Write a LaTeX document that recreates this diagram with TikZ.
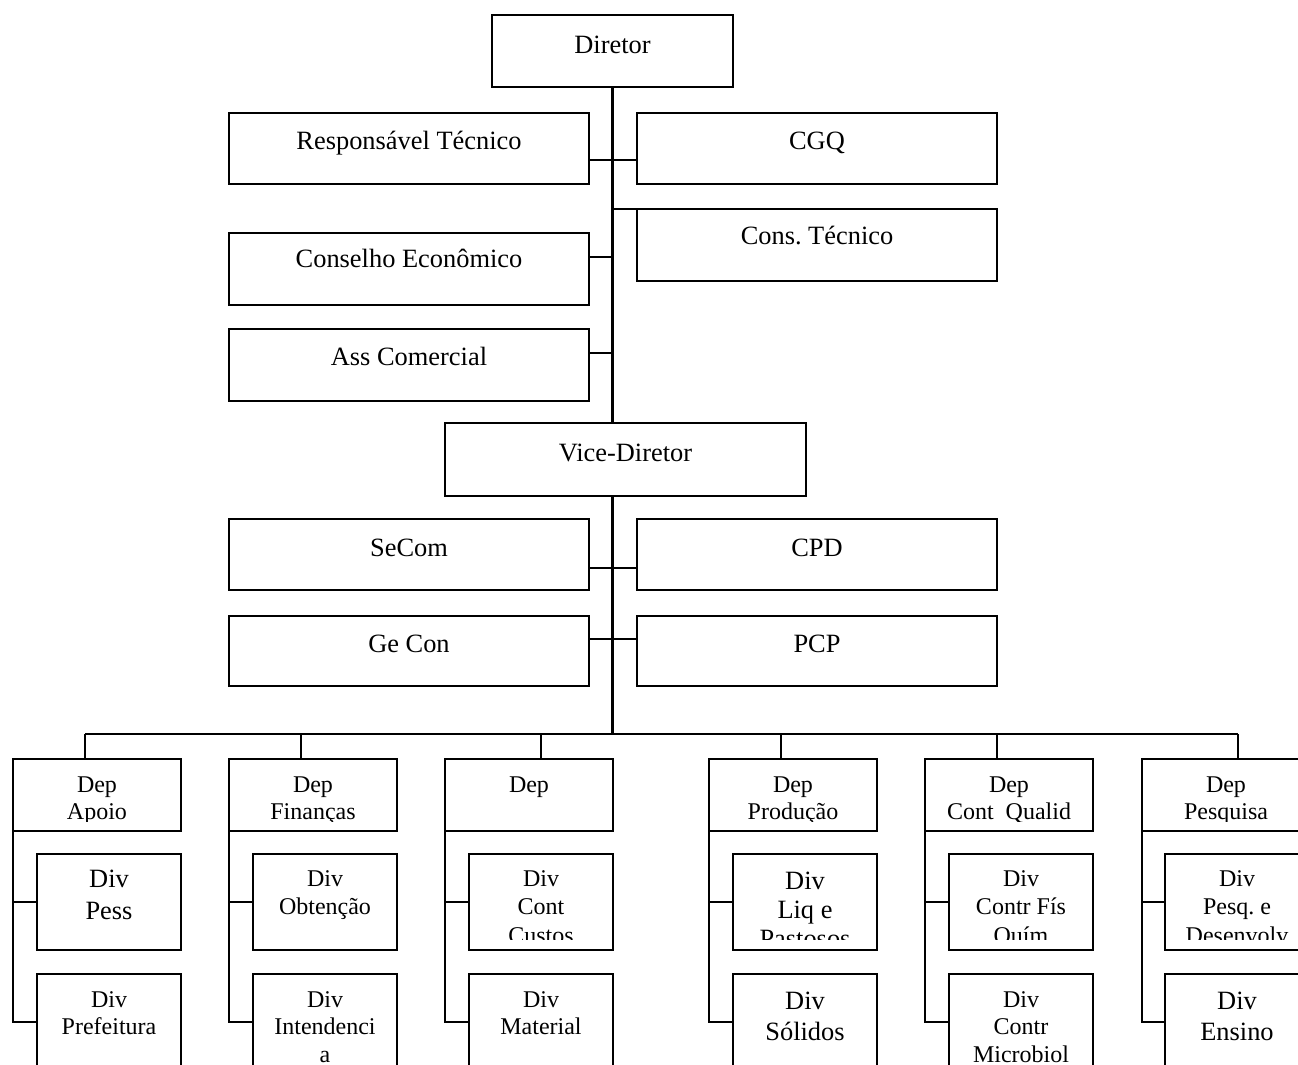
\documentclass[tikz,border=0pt]{standalone}
\usepackage{fontspec}
\setmainfont{Liberation Serif}
\usetikzlibrary{calc}
\frenchspacing

\tikzset{
  orgbox/.style={draw, line width=1.15pt, rectangle, inner sep=0pt, outer sep=0pt},
  labeltext/.style={anchor=base, inner sep=0pt, outer sep=0pt},
  link/.style={draw, line width=1.05pt},
}

% type sizes and line pitches
\newcommand\fsTop{\fontsize{13.2pt}{15.5pt}\selectfont}
\newcommand\fsDep{\fontsize{12pt}{13.5pt}\selectfont}
\newcommand\fsDivA{\fontsize{12pt}{14.25pt}\selectfont}
\newcommand\fsDivB{\fontsize{12pt}{13.75pt}\selectfont}
\newcommand\fsPess{\fontsize{13.2pt}{16pt}\selectfont}
\newcommand\fsLiq{\fontsize{13.2pt}{14.5pt}\selectfont}
\newcommand\fsBigB{\fontsize{13.2pt}{15.5pt}\selectfont}

% box: name, left, top, right, bottom
\newcommand\orgunit[5]{%
  \node[orgbox, anchor=north west,
        minimum width={(#4-#2)*0.5pt}, minimum height={(#5-#3)*0.5pt}]
        (#1) at (#2,#3) {};}

% label: name, box, first baseline, clip bottom, font, lines
\newcommand\orglabel[6]{%
  \begin{scope}
    \clip (#2.north west) rectangle (#2.east |- 0,#4);
    \node[labeltext] (#1) at (#2.center |- 0,#3)
      {#5\begin{tabular}[t]{@{}c@{}}#6\end{tabular}};
  \end{scope}}

\begin{document}
\begin{tikzpicture}[x=0.5pt,y=-0.5pt]
\useasboundingbox (0,0) rectangle (1298,1065);
\clip (0,0) rectangle (1298,1065);

% ---- direction ----
\orgunit{dir}{492}{15}{733}{87}
\orgunit{resp}{229}{113}{589}{184}
\orgunit{cgq}{637}{113}{997}{184}
\orgunit{ctec}{637}{209}{997}{281}
\orgunit{cecon}{229}{233}{589}{305}
\orgunit{ass}{229}{329}{589}{401}
\orgunit{vice}{445}{423}{806}{496}
\orgunit{secom}{229}{519}{589}{590}
\orgunit{cpd}{637}{519}{997}{590}
\orgunit{gecon}{229}{616}{589}{686}
\orgunit{pcp}{637}{616}{997}{686}

\orglabel{tdir}{dir}{53.5}{80}{\fsTop}{Diretor}
\orglabel{tresp}{resp}{149.5}{176}{\fsTop}{Responsável Técnico}
\orglabel{tcgq}{cgq}{149.5}{176}{\fsTop}{CGQ}
\orglabel{tctec}{ctec}{245}{273}{\fsTop}{Cons. Técnico}
\orglabel{tcecon}{cecon}{268}{297}{\fsTop}{Conselho Econômico}
\orglabel{tass}{ass}{365}{393}{\fsTop}{Ass Comercial}
\orglabel{tvice}{vice}{461}{488}{\fsTop}{Vice-Diretor}
\orglabel{tsecom}{secom}{556}{582}{\fsTop}{SeCom}
\orglabel{tcpd}{cpd}{556}{582}{\fsTop}{CPD}
\orglabel{tgecon}{gecon}{652}{678}{\fsTop}{Ge Con}
\orglabel{tpcp}{pcp}{652}{678}{\fsTop}{PCP}

% ---- departments ----
\orgunit{depA}{13}{759}{181}{831}
\orgunit{depB}{229}{759}{397}{831}
\orgunit{depC}{445}{759}{613}{831}
\orgunit{depD}{709}{759}{877}{831}
\orgunit{depE}{925}{759}{1093}{831}
\orgunit{depF}{1142}{759}{1310}{831}

\orglabel{tdepA}{depA}{792}{821}{\fsDep}{Dep\\Apoio}
\orglabel{tdepB}{depB}{792}{821}{\fsDep}{Dep\\Finanças}
\orglabel{tdepC}{depC}{792}{821}{\fsDep}{Dep}
\orglabel{tdepD}{depD}{792}{821}{\fsDep}{Dep\\Produção}
\orglabel{tdepE}{depE}{792}{821}{\fsDep}{Dep\\Cont\ \ Qualid}
\orglabel{tdepF}{depF}{792}{821}{\fsDep}{Dep\\Pesquisa}

% ---- divisions ----
\orgunit{divA1}{37}{854}{181}{950}
\orgunit{divB1}{253}{854}{397}{950}
\orgunit{divC1}{469}{854}{613}{950}
\orgunit{divD1}{733}{854}{877}{950}
\orgunit{divE1}{949}{854}{1093}{950}
\orgunit{divF1}{1165}{854}{1309}{950}

\orgunit{divA2}{37}{974}{181}{1070}
\orgunit{divB2}{253}{974}{397}{1070}
\orgunit{divC2}{469}{974}{613}{1070}
\orgunit{divD2}{733}{974}{877}{1070}
\orgunit{divE2}{949}{974}{1093}{1070}
\orgunit{divF2}{1165}{974}{1309}{1070}

\orglabel{tdivA1}{divA1}{887.5}{939}{\fsPess}{Div\\Pess}
\orglabel{tdivB1}{divB1}{886}{939}{\fsDivA}{Div\\Obtenção}
\orglabel{tdivC1}{divC1}{886}{939}{\fsDivA}{Div\\Cont\\Custos}
\orglabel{tdivD1}{divD1}{889.5}{939}{\fsLiq}{Div\\Liq e\\Pastosos}
\orglabel{tdivE1}{divE1}{886}{939}{\fsDivA}{Div\\Contr Fís\\Quím}
\orglabel{tdivF1}{divF1}{886}{939}{\fsDivA}{Div\\Pesq. e\\Desenvolv}

\orglabel{tdivA2}{divA2}{1007}{1070}{\fsDivB}{Div\\Prefeitura}
\orglabel{tdivB2}{divB2}{1007}{1070}{\fsDivB}{Div\\Intendenci\\a}
\orglabel{tdivC2}{divC2}{1007}{1070}{\fsDivB}{Div\\Material}
\orglabel{tdivD2}{divD2}{1009.5}{1070}{\fsBigB}{Div\\Sólidos}
\orglabel{tdivE2}{divE2}{1007}{1070}{\fsDivB}{Div\\Contr\\Microbiol}
\orglabel{tdivF2}{divF2}{1009.5}{1070}{\fsBigB}{Div\\Ensino}

% ---- trunk and side links ----
\coordinate (trunkend) at (dir.south |- 0,734);
\draw[link] (dir.south) -- (dir.south |- vice.north);
\draw[link] (dir.south |- vice.south) -- (trunkend);
\draw[link] (resp.east |- 0,160) -- (cgq.west |- 0,160);
\draw[link] (dir.south |- ctec.north west) -- (ctec.north west);
\draw[link] (cecon.east |- 0,257) -- (dir.south |- 0,257);
\draw[link] (ass.east |- 0,353) -- (dir.south |- 0,353);
\draw[link] (secom.east |- 0,568) -- (cpd.west |- 0,568);
\draw[link] (gecon.east |- 0,639) -- (pcp.west |- 0,639);

% ---- department bus ----
\coordinate (jA) at (85,734);
\coordinate (jB) at (301,734);
\coordinate (jC) at (541,734);
\coordinate (jD) at (781,734);
\coordinate (jE) at (997,734);
\coordinate (jF) at (1238,734);
\draw[link] (jA) -- (jF);
\foreach \c in {A,B,C,D,E,F} {
  \draw[link] (j\c) -- (j\c |- dep\c.north);
  \draw[link] (dep\c.south west) -- (dep\c.south west |- div\c2.west) -- (div\c2.west);
  \draw[link] (dep\c.south west |- div\c1.west) -- (div\c1.west);
}
\end{tikzpicture}
\end{document}
